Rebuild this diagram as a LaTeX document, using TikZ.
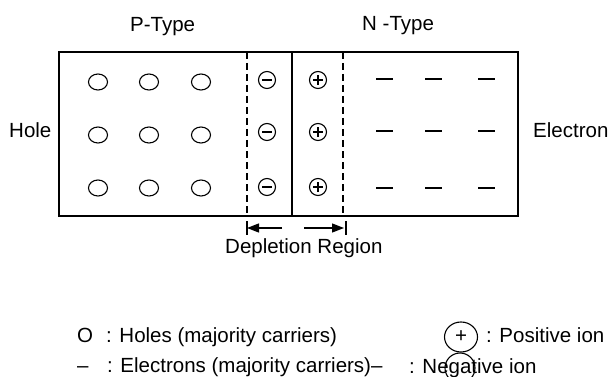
\documentclass[tikz,border=0pt]{standalone}
\usepackage{fontspec}
\setmainfont{Liberation Sans}
\usetikzlibrary{arrows.meta,shapes.geometric}
\begin{document}
\begin{tikzpicture}[x=1pt,y=-1pt,
  txt/.style={anchor=base west, inner sep=0pt, font=\fontsize{20.5}{24}\selectfont},
  holec/.style={draw, ellipse, line width=1.1pt, minimum width=19pt, minimum height=16pt, inner sep=0pt},
  ion/.style={draw, circle, line width=1.1pt, minimum size=17pt, inner sep=0pt},
  negion/.style={ion, path picture={\draw[line width=1.3pt] ([xshift=-5pt]path picture bounding box.center) -- ([xshift=5pt]path picture bounding box.center);}},
  posion/.style={ion, path picture={\draw[line width=1.1pt] ([xshift=-5pt]path picture bounding box.center) -- ([xshift=5pt]path picture bounding box.center) ([yshift=-5pt]path picture bounding box.center) -- ([yshift=5pt]path picture bounding box.center);}},
  elec/.style={fill=black, draw=none, minimum width=17pt, minimum height=1.5pt, inner sep=0pt},
  frame/.style={line width=1.3pt},
  dline/.style={line width=1.3pt, dash pattern=on 7pt off 4pt},
  darrow/.style={line width=1.3pt, -{Triangle[length=12pt,width=9pt]}},
  legc/.style={draw, ellipse, line width=1.1pt, minimum width=33pt, minimum height=30pt, inner sep=0pt, font=\fontsize{20.5}{24}\selectfont}
]
\useasboundingbox (0,0) rectangle (610,377);

% box
\coordinate (tl) at (59,52);
\coordinate (br) at (518,216);
\draw[frame] (tl) rectangle (br);
\coordinate (lt) at (247,52);  \coordinate (lb) at (247,216);
\coordinate (mt) at (292,52);  \coordinate (mb) at (292,216);
\coordinate (rt) at (343,52);  \coordinate (rb) at (343,216);
\draw[dline] (lt) -- (lb);
\draw[frame] (mt) -- (mb);
\draw[dline] (rt) -- (rb);

% holes
\foreach \i/\y in {1/82,2/135,3/188}{
  \node[holec] (h\i a) at (98,\y) {};
  \node[holec] (h\i b) at (149,\y) {};
  \node[holec] (h\i c) at (201,\y) {};
}
% ions
\foreach \i/\y in {1/80,2/132,3/187}{
  \node[negion] (n\i) at (267,\y) {};
  \node[posion] (p\i) at (318,\y) {};
}
% electrons
\foreach \i/\y in {1/79,2/131,3/188}{
  \node[elec] (e\i a) at (384,\y) {};
  \node[elec] (e\i b) at (433,\y) {};
  \node[elec] (e\i c) at (486,\y) {};
}

% labels
\node[txt] (ptype) at (130,32) {P-Type};
\node[txt] (ntype) at (362,31) {N -Type};
\node[txt] (hole) at (9,138) {Hole};
\node[txt] (electron) at (533,138) {Electron};

% depletion arrows
\coordinate (la) at (282,228); \coordinate (lat) at (247,228);
\coordinate (ra) at (304,228); \coordinate (rat) at (344,228);
\draw[darrow] (la) -- (lat);
\draw[darrow] (ra) -- (rat);
\draw[line width=1.3pt] (247,221) -- (247,235);
\draw[line width=1.3pt] (346,221) -- (346,235);
\node[txt] (dep) at (225,253) {Depletion Region};

% legend
\node[txt] (lo) at (77,342) {O};
\node[txt] (lholes) at (106,342) {: Holes (majority carriers)};
\node[txt] (ldash) at (77,372) {–};
\node[txt] (lelec) at (107,372) {: Electrons (majority carriers)–};
\node[legc] (lpos) at (461,337) {+};
\node[txt] (lpost) at (486,342) {: Positive ion};
\node[txt] (lnegt) at (409,373) {: Negative ion};
\node[legc, minimum width=30pt, minimum height=30pt] (lneg) at (460,368) {};
\end{tikzpicture}
\end{document}
